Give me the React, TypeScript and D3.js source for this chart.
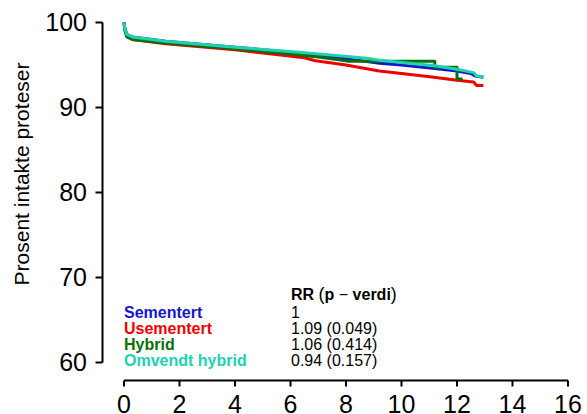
import React from "react";
import * as d3 from "d3";

const seriesNames = ["Sementert", "Usementert", "Hybrid", "Omvendt hybrid"];
const seriesColors = ["#1414D2", "#F00000", "#0A700A", "#1CD2B0"];
const rrLabels = ["1", "1.09 (0.049)", "1.06 (0.414)", "0.94 (0.157)"];

const sementert: [number, number][] = [
  [0, 100], [0.03, 99.3], [0.1, 98.6], [0.3, 98.3], [1.5, 97.8], [4, 97.1], [6.3, 96.4],
  [8, 95.75], [9.2, 95.2], [10, 95.0], [11.2, 94.6], [12, 94.3], [12.5, 94.0], [12.65, 93.7],
  [12.95, 93.55],
];
const usementert: [number, number][] = [
  [0, 100], [0.03, 99.2], [0.1, 98.4], [0.3, 98.0], [1.5, 97.5], [4, 96.8], [6.5, 95.85],
  [6.9, 95.5], [8, 95.0], [9.2, 94.3], [10, 94.0], [11.1, 93.6], [12, 93.2], [12.6, 93.0],
  [12.7, 92.6], [12.95, 92.6],
];
const hybrid: [number, number][] = [
  [0, 100], [0.03, 99.1], [0.1, 98.3], [0.3, 98.0], [1.5, 97.6], [4, 96.9], [6, 96.3],
  [7, 95.95], [7.8, 95.6], [8.1, 95.45], [11.2, 95.45], [11.2, 94.75], [12.0, 94.75],
  [12.0, 93.35], [12.2, 93.35],
];
const omvendtHybrid: [number, number][] = [
  [0, 100], [0.03, 99.3], [0.1, 98.6], [0.3, 98.3], [1.5, 97.8], [4, 97.1], [6.3, 96.5],
  [8.75, 95.8], [9.2, 95.55], [10, 95.3], [11.2, 94.9], [12.0, 94.5], [12.6, 94.1],
  [12.7, 93.7], [12.95, 93.6],
];
const allSeries = [sementert, usementert, hybrid, omvendtHybrid];

const xTicks = [0, 2, 4, 6, 8, 10, 12, 14, 16];
const yTicks = [60, 70, 80, 90, 100];
const yTitle = "Prosent intakte proteser";

export default function App() {
  const x = d3.scaleLinear().domain([0, 16]).range([124, 568]);
  const y = d3.scaleLinear().domain([60, 100]).range([362.5, 22.5]);
  const line = d3
    .line<[number, number]>()
    .x((d) => x(d[0]))
    .y((d) => y(d[1]))
    .curve(d3.curveLinear);
  const font = "'Liberation Sans', Arial, Helvetica, sans-serif";
  const axisY = 380.5;
  const axisX = 102.5;
  return (
    <svg
      width={587}
      height={414}
      style={{ position: "absolute", left: 0, top: 0, background: "#fff" }}
      fontFamily={font}
    >
      {/* y axis */}
      <line x1={axisX} x2={axisX} y1={y(100)} y2={y(60)} stroke="#000" strokeWidth={2} />
      {yTicks.map((t) => (
        <g key={t}>
          <line x1={axisX - 7} x2={axisX} y1={y(t)} y2={y(t)} stroke="#000" strokeWidth={2} />
          <text x={87} y={y(t)} dy="0.35em" textAnchor="end" fontSize={25}>
            {t}
          </text>
        </g>
      ))}
      {/* x axis */}
      <line x1={x(0)} x2={x(16)} y1={axisY} y2={axisY} stroke="#000" strokeWidth={2} />
      {xTicks.map((t) => (
        <g key={t}>
          <line x1={x(t)} x2={x(t)} y1={axisY} y2={axisY + 6} stroke="#000" strokeWidth={2} />
          <text x={x(t)} y={413} textAnchor="middle" fontSize={25}>
            {t}
          </text>
        </g>
      ))}
      <text
        transform={`translate(29,${174}) rotate(-90)`}
        textAnchor="middle"
        fontSize={21}
      >
        {yTitle}
      </text>
      {/* curves */}
      {allSeries.map((s, i) => (
        <path
          key={i}
          d={line(s) || ""}
          fill="none"
          stroke={seriesColors[i]}
          strokeWidth={3}
          strokeLinejoin="round"
        />
      ))}
      {/* legend */}
      <text x={291} y={300} fontSize={16}>
        <tspan fontWeight="bold">RR </tspan>
        <tspan fontSize={18}>(</tspan>
        <tspan fontWeight="bold">p</tspan>
        <tspan> − </tspan>
        <tspan fontWeight="bold">verdi</tspan>
        <tspan fontSize={18}>)</tspan>
      </text>
      {seriesNames.map((n, i) => (
        <g key={n}>
          <text x={124} y={318 + i * 16} fontSize={16} fontWeight="bold" fill={seriesColors[i]}>
            {n}
          </text>
          <text x={291} y={318 + i * 16} fontSize={16}>
            {rrLabels[i]}
          </text>
        </g>
      ))}
    </svg>
  );
}
